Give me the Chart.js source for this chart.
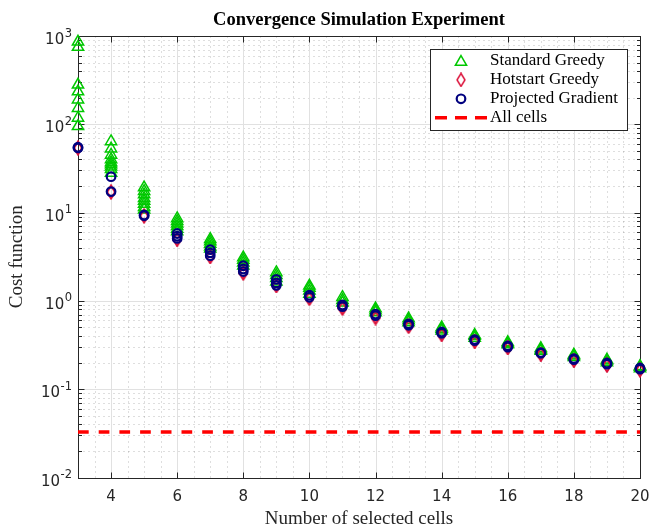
<!DOCTYPE html>
<html>
<head>
<meta charset="utf-8">
<title>Convergence Simulation Experiment</title>
<script src="https://cdn.jsdelivr.net/npm/chart.js@4/dist/chart.umd.min.js"></script>
<style>
  html, body { margin: 0; padding: 0; background: #fff; }
  #wrap { width: 650px; height: 527px; }
</style>
</head>
<body>
<div id="wrap"><canvas id="chart" width="650" height="527"></canvas></div>
<script>
// データ（各セル数ごとの試行結果）
const cells = [3, 4, 5, 6, 7, 8, 9, 10, 11, 12, 13, 14, 15, 16, 17, 18, 19, 20]

const standardGreedy = [
  [860, 750, 280, 235, 190, 152, 118, 95],
  [64, 53, 45, 40, 37, 35, 33, 31, 28],
  [19.2, 17.5, 16, 14.5, 13.5, 12.5, 11.5, 10.8],
  [8.6, 8.0, 7.5, 7.0, 6.5, 6.1],
  [5.0, 4.7, 4.4, 4.1, 3.9],
  [3.1, 2.9, 2.7, 2.5],
  [2.1, 1.95, 1.8, 1.65],
  [1.48, 1.4, 1.3, 1.2],
  [1.1, 1.02, 0.95],
  [0.82, 0.78, 0.74],
  [0.63, 0.6, 0.57],
  [0.5, 0.48, 0.46],
  [0.41, 0.4, 0.38],
  [0.34, 0.33, 0.32],
  [0.29, 0.28, 0.27],
  [0.245, 0.24, 0.23],
  [0.215, 0.21, 0.2],
  [0.182, 0.178, 0.172]
]

const hotstartGreedy = [
  [54.5, 53.5],
  [17.2, 17],
  [9.2, 9.1],
  [5.0, 4.95],
  [3.2, 3.15],
  [2.1, 2.05],
  [1.5, 1.48],
  [1.08, 1.06],
  [0.84, 0.82],
  [0.66, 0.64],
  [0.52, 0.51],
  [0.42, 0.415],
  [0.35, 0.345],
  [0.297, 0.293],
  [0.25, 0.247],
  [0.213, 0.21],
  [0.188, 0.185],
  [0.166, 0.164]
]

const projectedGradient = [
  [55, 54],
  [25.5, 17.3],
  [9.4, 9.2],
  [5.8, 5.4, 5.1],
  [3.8, 3.5, 3.25],
  [2.5, 2.3, 2.15],
  [1.75, 1.6, 1.5],
  [1.16, 1.1],
  [0.9, 0.86],
  [0.71, 0.68],
  [0.55, 0.53],
  [0.445, 0.43],
  [0.365, 0.355],
  [0.31, 0.3],
  [0.26, 0.255],
  [0.222, 0.216],
  [0.198, 0.192],
  [0.174, 0.169]
]

const allCellsCost = 0.0327

const xTicks = [4, 6, 8, 10, 12, 14, 16, 18, 20]
const yTickExps = [-2, -1, 0, 1, 2, 3]

const SERIF = 'Liberation Serif'
const SANS = 'DejaVu Sans'
const INK = '#262626'
const GREEN = '#00c800'
const CRIMSON = '#dc143c'
const NAVY = '#00007f'
const CLEAR = 'rgba(0,0,0,0)'

function toPoints(series) {
  return series.flatMap((vals, i) => vals.map(v => ({ x: cells[i], y: v })))
}

// 縦長のひし形マーカー
function makeDiamond() {
  const c = document.createElement('canvas')
  c.width = 10
  c.height = 15
  const g = c.getContext('2d')
  g.strokeStyle = CRIMSON
  g.lineWidth = 1.5
  g.beginPath()
  g.moveTo(5, 1)
  g.lineTo(9, 7.5)
  g.lineTo(5, 14)
  g.lineTo(1, 7.5)
  g.closePath()
  g.stroke()
  return c
}
const diamond = makeDiamond()

// グリッド・枠・内向き目盛り
const axesBox = {
  id: 'axesBox',
  beforeDatasetsDraw(chart) {
    const { ctx, chartArea: a, scales: { x, y } } = chart
    const px = v => Math.round(x.getPixelForValue(v)) + 0.5
    const py = v => Math.round(y.getPixelForValue(v)) + 0.5
    const L = Math.round(a.left) + 0.5
    const R = Math.round(a.right) + 0.5
    const T = Math.round(a.top) + 0.5
    const B = Math.round(a.bottom) + 0.5
    const minorY = []
    for (let e = yTickExps[0]; e < yTickExps[yTickExps.length - 1]; e++) {
      for (let k = 2; k <= 9; k++) minorY.push(k * 10 ** e)
    }

    ctx.save()
    ctx.lineWidth = 1

    // 補助グリッド（点線）
    ctx.strokeStyle = 'rgba(0,0,0,0.26)'
    ctx.setLineDash([1, 4])
    ctx.beginPath()
    for (let v = x.min + 0.5; v < x.max; v += 0.5) {
      if (xTicks.includes(v)) continue
      ctx.moveTo(px(v), T)
      ctx.lineTo(px(v), B)
    }
    minorY.forEach(v => {
      ctx.moveTo(L, py(v))
      ctx.lineTo(R, py(v))
    })
    ctx.stroke()

    // 主グリッド
    ctx.setLineDash([])
    ctx.strokeStyle = '#e1e1e1'
    ctx.beginPath()
    xTicks.forEach(v => {
      if (v >= x.max) return
      ctx.moveTo(px(v), T)
      ctx.lineTo(px(v), B)
    })
    yTickExps.slice(1, -1).forEach(e => {
      ctx.moveTo(L, py(10 ** e))
      ctx.lineTo(R, py(10 ** e))
    })
    ctx.stroke()

    // 目盛り
    ctx.strokeStyle = INK
    ctx.beginPath()
    xTicks.forEach(v => {
      ctx.moveTo(px(v), B)
      ctx.lineTo(px(v), B - 6)
      ctx.moveTo(px(v), T)
      ctx.lineTo(px(v), T + 6)
    })
    yTickExps.forEach(e => {
      ctx.moveTo(L, py(10 ** e))
      ctx.lineTo(L + 6, py(10 ** e))
      ctx.moveTo(R, py(10 ** e))
      ctx.lineTo(R - 6, py(10 ** e))
    })
    minorY.forEach(v => {
      ctx.moveTo(L, py(v))
      ctx.lineTo(L + 3.5, py(v))
      ctx.moveTo(R, py(v))
      ctx.lineTo(R - 3.5, py(v))
    })
    ctx.stroke()

    ctx.strokeRect(L, T, R - L, B - T)
    ctx.restore()
  }
}

// y軸ラベル（10のべき）
const yLabels = {
  id: 'yLabels',
  afterDraw(chart) {
    const { ctx, chartArea: a, scales: { y } } = chart
    const right = a.left - 6
    ctx.save()
    ctx.fillStyle = INK
    ctx.textAlign = 'right'
    ctx.textBaseline = 'alphabetic'
    yTickExps.forEach(e => {
      const py = y.getPixelForValue(10 ** e)
      const exp = String(e)
      ctx.font = `11.5px "${SANS}"`
      const w = ctx.measureText(exp).width
      ctx.fillText(exp, right, py + 0.5)
      ctx.font = `15px "${SANS}"`
      ctx.fillText('10', right - w - 0.5, py + 8)
    })
    ctx.restore()
  }
}

// 枠付き凡例
const boxLegend = {
  id: 'boxLegend',
  afterDraw(chart) {
    const { ctx } = chart
    const left = 430, top = 49, width = 197, height = 81
    const firstY = 61, rowH = 18.9, markX = 461, textX = 490
    ctx.save()
    ctx.fillStyle = '#fff'
    ctx.fillRect(left, top, width, height)
    ctx.strokeStyle = INK
    ctx.lineWidth = 1
    ctx.strokeRect(left + 0.5, top + 0.5, width, height)

    chart.data.datasets.forEach((ds, i) => {
      const yy = firstY + i * rowH
      ctx.save()
      if (ds.showLine) {
        ctx.strokeStyle = ds.borderColor
        ctx.lineWidth = ds.borderWidth
        ctx.setLineDash([12, 8])
        ctx.beginPath()
        ctx.moveTo(435, yy)
        ctx.lineTo(487, yy)
        ctx.stroke()
      } else if (ds.pointStyle === 'triangle') {
        const r = ds.pointRadius
        ctx.strokeStyle = ds.pointBorderColor
        ctx.lineWidth = ds.pointBorderWidth
        ctx.beginPath()
        for (let k = 0; k < 3; k++) {
          const ang = k * 2 * Math.PI / 3
          const fx = markX + Math.sin(ang) * r
          const fy = yy + 1 - Math.cos(ang) * r
          if (k === 0) ctx.moveTo(fx, fy)
          else ctx.lineTo(fx, fy)
        }
        ctx.closePath()
        ctx.stroke()
      } else if (ds.pointStyle === 'circle') {
        ctx.strokeStyle = ds.pointBorderColor
        ctx.lineWidth = ds.pointBorderWidth
        ctx.beginPath()
        ctx.arc(markX, yy, ds.pointRadius, 0, Math.PI * 2)
        ctx.stroke()
      } else {
        const img = ds.pointStyle
        ctx.drawImage(img, markX - img.width / 2, yy - img.height / 2)
      }
      ctx.restore()
      ctx.fillStyle = '#000'
      ctx.font = `17px "${SERIF}"`
      ctx.textBaseline = 'middle'
      ctx.textAlign = 'left'
      ctx.fillText(ds.label, textX, yy)
    })
    ctx.restore()
  }
}

new Chart(document.getElementById('chart'), {
  type: 'scatter',
  data: {
    datasets: [
      {
        label: 'Standard Greedy',
        data: toPoints(standardGreedy),
        pointStyle: 'triangle',
        pointRadius: 6.5,
        pointBorderColor: GREEN,
        pointBackgroundColor: CLEAR,
        pointBorderWidth: 1.5,
        order: 3,
        clip: false
      },
      {
        label: 'Hotstart Greedy',
        data: toPoints(hotstartGreedy),
        pointStyle: diamond,
        pointRadius: 6,
        pointBorderColor: CRIMSON,
        pointBackgroundColor: CLEAR,
        order: 2,
        clip: false
      },
      {
        label: 'Projected Gradient',
        data: toPoints(projectedGradient),
        pointStyle: 'circle',
        pointRadius: 4.3,
        pointBorderColor: NAVY,
        pointBackgroundColor: CLEAR,
        pointBorderWidth: 2.2,
        order: 1,
        clip: false
      },
      {
        label: 'All cells',
        data: [
          { x: cells[0], y: allCellsCost },
          { x: cells[cells.length - 1], y: allCellsCost }
        ],
        showLine: true,
        borderColor: '#ff0000',
        borderWidth: 3.5,
        borderDash: [10.7, 10],
        pointRadius: 0,
        order: 4
      }
    ]
  },
  options: {
    responsive: false,
    animation: false,
    events: [],
    layout: { padding: { left: 0, right: 10, top: 0, bottom: 0 } },
    plugins: {
      legend: { display: false },
      tooltip: { enabled: false },
      title: {
        display: true,
        text: 'Convergence Simulation Experiment',
        fullSize: false,
        color: '#000',
        font: { family: SERIF, size: 18.5, weight: 'bold', lineHeight: 1.2 },
        padding: { top: 9, bottom: 4.8 }
      }
    },
    scales: {
      x: {
        type: 'linear',
        min: cells[0],
        max: cells[cells.length - 1],
        afterBuildTicks: scale => { scale.ticks = xTicks.map(v => ({ value: v })) },
        afterFit: scale => {
          scale.height = 49.5
          scale.paddingLeft = 0
          scale.paddingRight = 0
        },
        grid: { display: false, drawTicks: false },
        border: { display: false },
        ticks: {
          color: INK,
          font: { family: SANS, size: 15 },
          padding: 11,
          maxRotation: 0,
          autoSkip: false
        },
        title: {
          display: true,
          text: 'Number of selected cells',
          color: INK,
          font: { family: SERIF, size: 19, lineHeight: 0.8 },
          padding: 0
        }
      },
      y: {
        type: 'logarithmic',
        min: 10 ** yTickExps[0],
        max: 10 ** yTickExps[yTickExps.length - 1],
        afterFit: scale => {
          scale.width = 78
          scale.paddingTop = 0
          scale.paddingBottom = 0
        },
        grid: { display: false, drawTicks: false },
        border: { display: false },
        ticks: { display: false },
        title: {
          display: true,
          text: 'Cost function',
          color: INK,
          font: { family: SERIF, size: 19, lineHeight: 1.2 },
          padding: { top: 6, bottom: 0 }
        }
      }
    }
  },
  plugins: [axesBox, yLabels, boxLegend]
})
</script>
</body>
</html>
